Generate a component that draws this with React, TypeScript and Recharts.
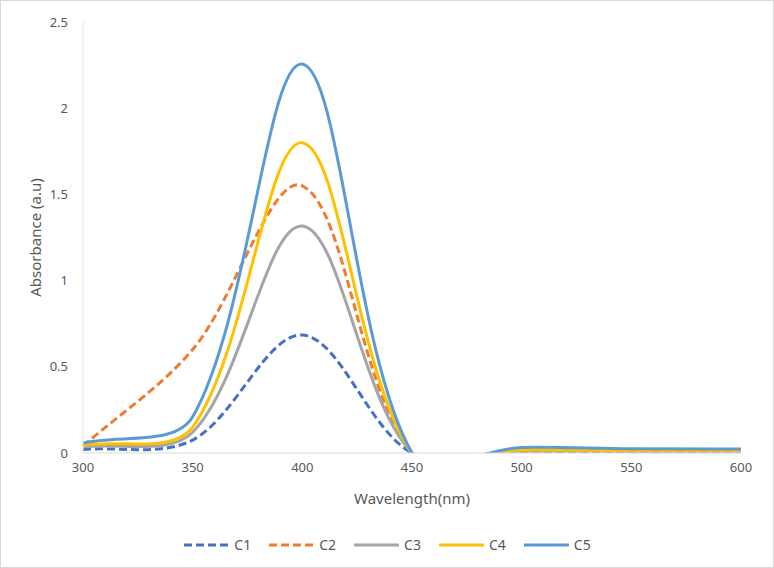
import { LineChart, Line, XAxis, YAxis, Legend } from 'recharts';

const wavelengths = [300, 350, 400, 450, 500, 550, 600];
const c1 = [0.02, 0.075, 0.684, 0, 0.01, 0.01, 0.01];
const c2 = [0.04, 0.6, 1.55, 0, 0.012, 0.012, 0.012];
const c3 = [0.035, 0.12, 1.317, 0, 0.012, 0.012, 0.012];
const c4 = [0.045, 0.15, 1.8, 0, 0.017, 0.015, 0.015];
const c5 = [0.058, 0.21, 2.256, 0, 0.032, 0.024, 0.023];
const xTicks = [300, 350, 400, 450, 500, 550, 600];
const yTicks = [0, 0.5, 1, 1.5, 2, 2.5];

const data = wavelengths.map((w, i) => ({
  w,
  C1: c1[i],
  C2: c2[i],
  C3: c3[i],
  C4: c4[i],
  C5: c5[i],
}));

const series = [
  { key: 'C1', color: '#4472C4', dash: '8 4' },
  { key: 'C2', color: '#ED7D31', dash: '8 4' },
  { key: 'C3', color: '#A5A5A5', dash: undefined },
  { key: 'C4', color: '#FFC000', dash: undefined },
  { key: 'C5', color: '#5B9BD5', dash: undefined },
];

const FONT = '"Noto Sans", sans-serif';
const TEXT = '#595959';

const dist = (ax: number, ay: number, bx: number, by: number) => Math.hypot(bx - ax, by - ay);

// smoothed line like a spreadsheet: tangent through neighbours, split by segment length
const smoothCurve = (context: any) => {
  let xs: number[] = [];
  let ys: number[] = [];
  return {
    areaStart() {},
    areaEnd() {},
    lineStart() {
      xs = [];
      ys = [];
    },
    point(x: number, y: number) {
      xs.push(+x);
      ys.push(+y);
    },
    lineEnd() {
      const n = xs.length;
      if (!n) return;
      // control points before (inX/inY) and after (outX/outY) each point
      const inX: number[] = [], inY: number[] = [], outX: number[] = [], outY: number[] = [];
      for (let i = 0; i < n; i++) {
        const p = Math.max(i - 1, 0);
        const q = Math.min(i + 1, n - 1);
        const dx = xs[q] - xs[p];
        const dy = ys[q] - ys[p];
        const dPrev = dist(xs[p], ys[p], xs[i], ys[i]);
        const dNext = dist(xs[i], ys[i], xs[q], ys[q]);
        const tot = dPrev + dNext || 1;
        outX[i] = xs[i] + (dx * dNext) / (3 * tot);
        outY[i] = ys[i] + (dy * dNext) / (3 * tot);
        inX[i] = xs[i] - (dx * dPrev) / (3 * tot);
        inY[i] = ys[i] - (dy * dPrev) / (3 * tot);
      }
      context.moveTo(xs[0], ys[0]);
      for (let i = 0; i < n - 1; i++) {
        context.bezierCurveTo(outX[i], outY[i], inX[i + 1], inY[i + 1], xs[i + 1], ys[i + 1]);
      }
    },
  };
};

const LegendContent = () => (
  <div style={{ display: 'flex', justifyContent: 'center', fontFamily: FONT, fontSize: 14, color: TEXT }}>
    {series.map((s, i) => (
      <div
        key={s.key}
        style={{ display: 'flex', alignItems: 'center', marginRight: i === series.length - 1 ? 0 : 17 }}
      >
        <svg width={47} height={6} style={{ marginRight: 4 }}>
          <line x1={1} y1={3} x2={46} y2={3} stroke={s.color} strokeWidth={3} strokeDasharray={s.dash} />
        </svg>
        <span>{s.key}</span>
      </div>
    ))}
  </div>
);

export default function App() {
  return (
    <div
      style={{
        position: 'fixed',
        top: 0,
        left: 0,
        width: 774,
        height: 568,
        background: '#fff',
        border: '1px solid #d9d9d9',
        boxSizing: 'border-box',
      }}
    >
      <div style={{ position: 'absolute', top: -1, left: -1 }}>
        <LineChart width={774} height={568} data={data} margin={{ top: 22, right: 33, bottom: 55, left: 33 }}>
          <XAxis
            dataKey="w"
            type="number"
            domain={[300, 600]}
            ticks={xTicks}
            tickLine={false}
            tickMargin={4}
            height={60}
            axisLine={{ stroke: '#d9d9d9' }}
            tick={{ fill: TEXT, fontSize: 13, fontFamily: FONT }}
            label={{
              value: 'Wavelength(nm)',
              position: 'insideBottom',
              offset: 9,
              style: { fill: TEXT, fontSize: 15, fontFamily: FONT },
            }}
          />
          <YAxis
            type="number"
            domain={[0, 2.5]}
            allowDataOverflow
            ticks={yTicks}
            tickLine={false}
            tickMargin={9}
            width={50}
            axisLine={{ stroke: '#e6e6e6' }}
            tick={{ fill: TEXT, fontSize: 13, fontFamily: FONT }}
            label={{
              value: 'Absorbance (a.u)',
              angle: -90,
              position: 'insideLeft',
              offset: 3,
              style: { fill: TEXT, fontSize: 15, fontFamily: FONT, textAnchor: 'middle' },
            }}
          />
          <Legend
            layout="horizontal"
            verticalAlign="middle"
            align="center"
            wrapperStyle={{ top: 535, left: 0, width: 774 }}
            content={<LegendContent />}
          />
          {series.map((s) => (
            <Line
              key={s.key}
              dataKey={s.key}
              type={smoothCurve as any}
              stroke={s.color}
              strokeWidth={3}
              strokeDasharray={s.dash}
              dot={false}
              activeDot={false}
              isAnimationActive={false}
            />
          ))}
        </LineChart>
      </div>
    </div>
  );
}
